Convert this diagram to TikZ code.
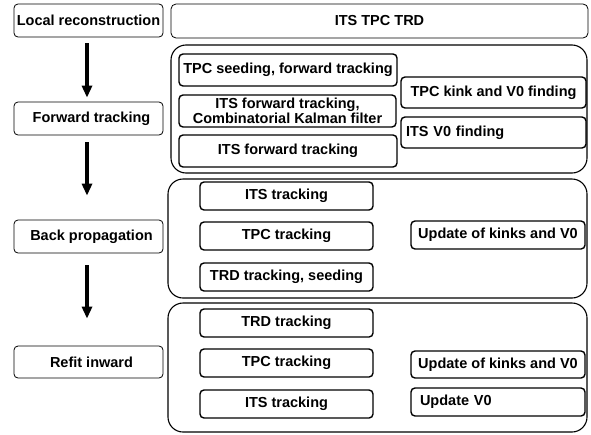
\documentclass[tikz,border=0pt]{standalone}
\usepackage{fontspec}
\setmainfont{Liberation Sans}
\usetikzlibrary{arrows.meta}
\begin{document}
\begin{tikzpicture}[x=1pt,y=-1pt,
  txt/.style={font=\fontsize{14.5}{14.5}\selectfont\bfseries},
  stagebox/.style={txt, draw, line width=0.8pt, rounded corners=4pt, inner sep=0pt, minimum width=149pt, minimum height=33pt},
  innerbox/.style={txt, draw, line width=1.4pt, rounded corners=4pt, inner sep=0pt},
  leftbox/.style={innerbox, text width=#1, align=left, inner xsep=5pt},
  groupbox/.style={draw, line width=1.1pt, rounded corners=15pt},
  bigarrow/.style={line width=4pt, -{Triangle[length=12pt,width=10pt]}}
]
\useasboundingbox (0,0) rectangle (591,434);

% stages on the left
\node[stagebox] (lr) at (88.5,20.5) {Local reconstruction};
\node[stagebox] (ft) at (88.5,118.5) {\hspace{6pt}Forward tracking};
\node[stagebox] (bp) at (88.5,236.5) {\hspace{6pt}Back propagation};
\node[stagebox, minimum height=32pt] (ri) at (88.5,362) {\hspace{6pt}Refit inward};

% top box
\node[txt, draw, line width=0.8pt, rounded corners=5pt, inner sep=0pt, minimum width=417pt, minimum height=34pt] (det) at (379.5,21) {ITS TPC TRD};

% group boxes
\draw[groupbox] (171,45) rectangle (587,173);
\draw[groupbox] (168,179) rectangle (587,298);
\draw[groupbox] (168,303) rectangle (587,432);

% group 1
\node[innerbox, minimum width=218pt, minimum height=32pt] (tpcs) at (288,70) {TPC seeding, forward tracking};
\node[innerbox, minimum width=217pt, minimum height=32pt, align=center] (itsck) at (287.5,111) {ITS forward tracking,\\Combinatorial Kalman filter};
\node[innerbox, minimum width=218pt, minimum height=32pt] (itsf) at (288,151) {ITS forward tracking};
\node[innerbox, minimum width=185pt, minimum height=31pt] (kink) at (493.5,92.5) {TPC kink and V0 finding};
\node[innerbox, minimum height=31pt, text width=175pt, align=left, inner xsep=5pt] (itsv0) at (493.5,132.5) {ITS V0 finding};

% group 2
\node[innerbox, minimum width=173pt, minimum height=28pt] (its2) at (286.5,196) {ITS tracking};
\node[innerbox, minimum width=173pt, minimum height=28pt] (tpc2) at (286.5,236) {TPC tracking};
\node[innerbox, minimum width=173pt, minimum height=28pt] (trd2) at (286.5,277) {TRD tracking, seeding};
\node[innerbox, minimum width=174pt, minimum height=28pt] (upd2) at (498,235) {Update of kinks and V0};

% group 3
\node[innerbox, minimum width=173pt, minimum height=28pt] (trd3) at (286.5,323) {TRD tracking};
\node[innerbox, minimum width=173pt, minimum height=28pt] (tpc3) at (286.5,363) {TPC tracking};
\node[innerbox, minimum width=173pt, minimum height=28pt] (its3) at (286.5,404) {ITS tracking};
\node[innerbox, minimum width=174pt, minimum height=27pt] (upd3) at (498,364.5) {Update of kinks and V0};
\node[innerbox, minimum height=28pt, text width=164pt, align=left, inner xsep=5pt] (updv0) at (498,402) {\hspace{4pt}Update V0};

% arrows
\draw[bigarrow] ([shift={(-1.5,6)}]lr.south) -- ([shift={(-1.5,-4)}]ft.north);
\draw[bigarrow] ([shift={(-1.5,7)}]ft.south) -- ([shift={(-1.5,-24)}]bp.north);
\draw[bigarrow] ([shift={(-1.5,12)}]bp.south) -- ([shift={(-1.5,-27)}]ri.north);
\end{tikzpicture}
\end{document}
